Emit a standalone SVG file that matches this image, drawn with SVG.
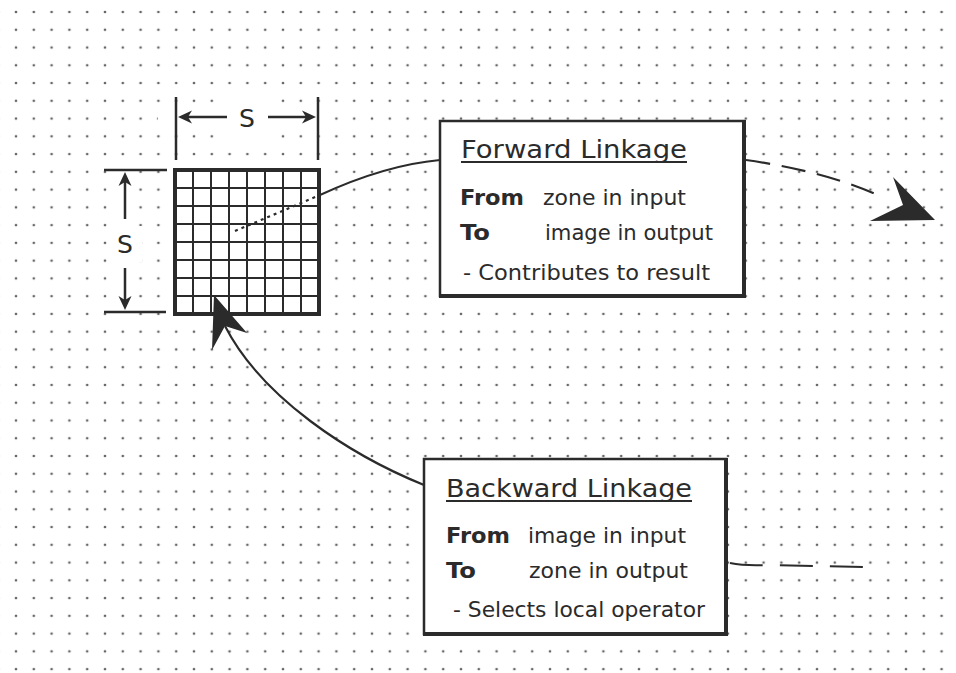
<svg xmlns="http://www.w3.org/2000/svg" width="956" height="673" viewBox="0 0 956 673">
<style>
.ink{stroke:#2b2b2b;fill:none}
.t{font-family:"DejaVu Sans","Liberation Sans",sans-serif;fill:#2b2b2b}
.title{font-size:24px}
.body{font-size:20.5px}
.b{font-weight:bold}
.box{fill:#fff;stroke:#2b2b2b;stroke-width:2.5}
.shadow{stroke:#2b2b2b;stroke-width:4}
.grid{stroke:#2b2b2b;stroke-width:2}
.head{fill:#2b2b2b}
</style>
<defs>
<pattern id="dots" patternUnits="userSpaceOnUse" x="7.1" y="3.12" width="17.8" height="17.76">
<circle cx="8.9" cy="8.88" r="1.35" fill="#666"/>
</pattern>
</defs>
<rect width="956" height="673" fill="#fff"/>
<rect width="956" height="673" fill="url(#dots)"/>

<g id="dimensions">
<rect x="158" y="109" width="172" height="16" fill="#fff"/>
<rect x="222" y="94" width="52" height="46" fill="#fff"/>
<rect x="117" y="165" width="16" height="152" fill="#fff"/>
<rect x="108" y="226" width="34" height="36" fill="#fff"/>
<line class="ink" x1="176" y1="97" x2="176" y2="160" stroke-width="2.5"/>
<line class="ink" x1="318" y1="97" x2="318" y2="160" stroke-width="2.5"/>
<line class="ink" x1="184" y1="117" x2="227" y2="117" stroke-width="2.5"/>
<polygon class="head" points="178,117 192,110.5 188,117 192,123.5"/>
<line class="ink" x1="268" y1="117" x2="310" y2="117" stroke-width="2.5"/>
<polygon class="head" points="316,117 302,110.5 306,117 302,123.5"/>
<text class="t" x="247" y="127" font-size="25" text-anchor="middle">S</text>
<line class="ink" x1="104" y1="170" x2="167" y2="170" stroke-width="2.5"/>
<line class="ink" x1="104" y1="312" x2="166" y2="312" stroke-width="2.5"/>
<line class="ink" x1="125" y1="178" x2="125" y2="219" stroke-width="2.5"/>
<polygon class="head" points="125,172 118.5,186 125,182 131.5,186"/>
<line class="ink" x1="125" y1="268" x2="125" y2="304" stroke-width="2.5"/>
<polygon class="head" points="125,310 118.5,296 125,300 131.5,296"/>
<text class="t" x="125" y="253" font-size="25" text-anchor="middle">S</text>
</g>

<g id="zone-grid">
<rect x="175" y="170" width="144" height="144" fill="#fff"/>
<path class="grid" d="M193,170V314M211,170V314M229,170V314M247,170V314M265,170V314M283,170V314M301,170V314M175,188H319M175,206H319M175,224H319M175,242H319M175,260H319M175,278H319M175,296H319"/>
<rect x="175" y="170" width="144" height="144" fill="none" stroke="#2b2b2b" stroke-width="4"/>
</g>

<g id="connectors">
<path class="ink" d="M235,231 L320,195" stroke-width="2.2" stroke-dasharray="3,4"/>
<path class="ink" d="M320,195 Q385,165 440,160" stroke-width="2"/>
<path class="ink" d="M746,160 Q830,172 884,198" stroke-width="2.2" stroke-dasharray="24,12"/>
<polygon class="head" points="935,220 893,177 903,205 870,221"/>
<path class="ink" d="M424,485 C350,455 262,398 225,326" stroke-width="2.2"/>
<polygon class="head" points="214,295 247,333 225,326 212,350"/>
<path class="ink" d="M730,563 Q745,566 766,565 L863,567" stroke-width="2" stroke-dasharray="33,17"/>
</g>

<g id="forward-linkage">
<rect class="box" x="440" y="121" width="304" height="175"/>
<line class="shadow" x1="744" y1="120" x2="744" y2="298"/>
<line class="shadow" x1="439" y1="296" x2="746" y2="296"/>
<text class="t title" x="461" y="158" textLength="226" lengthAdjust="spacingAndGlyphs">Forward Linkage</text>
<line x1="461" y1="162" x2="687" y2="162" stroke="#2b2b2b" stroke-width="2"/>
<text class="t body b" x="460" y="205" textLength="64" lengthAdjust="spacingAndGlyphs">From</text>
<text class="t body" x="543" y="205" textLength="143" lengthAdjust="spacingAndGlyphs">zone in input</text>
<text class="t body b" x="460" y="240" textLength="30" lengthAdjust="spacingAndGlyphs">To</text>
<text class="t body" x="545" y="240" textLength="168" lengthAdjust="spacingAndGlyphs">image in output</text>
<text class="t body" x="463" y="280" textLength="247" lengthAdjust="spacingAndGlyphs">- Contributes to result</text>
</g>

<g id="backward-linkage">
<rect class="box" x="424" y="459" width="302" height="175"/>
<line class="shadow" x1="726" y1="458" x2="726" y2="636"/>
<line class="shadow" x1="423" y1="634" x2="728" y2="634"/>
<text class="t title" x="446" y="497" textLength="246" lengthAdjust="spacingAndGlyphs">Backward Linkage</text>
<line x1="446" y1="501" x2="692" y2="501" stroke="#2b2b2b" stroke-width="2"/>
<text class="t body b" x="446" y="543" textLength="64" lengthAdjust="spacingAndGlyphs">From</text>
<text class="t body" x="528" y="543" textLength="158" lengthAdjust="spacingAndGlyphs">image in input</text>
<text class="t body b" x="446" y="578" textLength="30" lengthAdjust="spacingAndGlyphs">To</text>
<text class="t body" x="529" y="578" textLength="159" lengthAdjust="spacingAndGlyphs">zone in output</text>
<text class="t body" x="453" y="617" textLength="252" lengthAdjust="spacingAndGlyphs">- Selects local operator</text>
</g>
</svg>
